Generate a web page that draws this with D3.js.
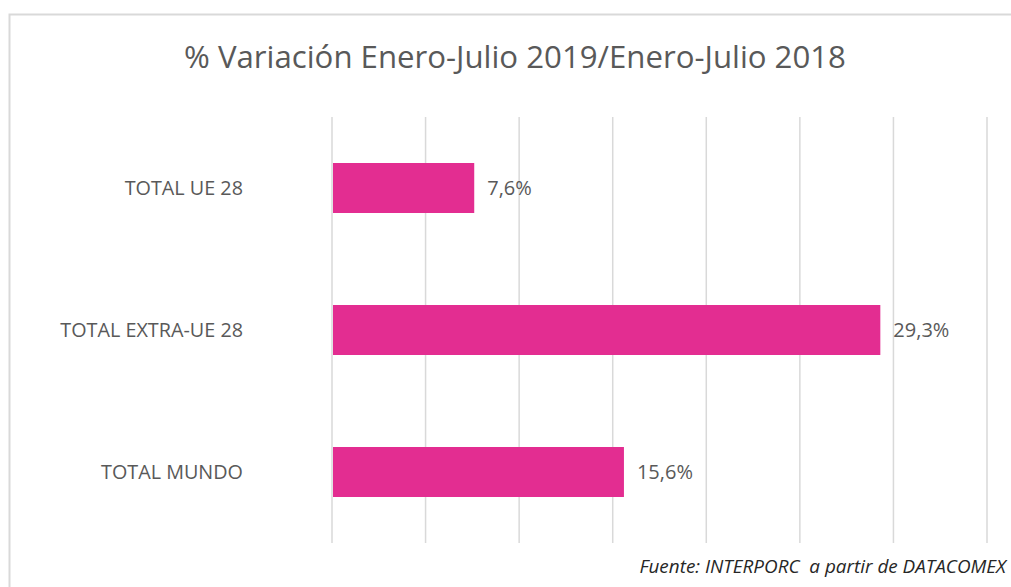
<!DOCTYPE html>
<html>
<head>
<meta charset="utf-8">
<script src="https://cdn.jsdelivr.net/npm/d3@7"></script>
<style>
  html, body { margin: 0; padding: 0; background: #ffffff; }
  svg { display: block; }
</style>
</head>
<body>
<svg id="chart" width="1011" height="587"></svg>
<script>
// Export variation by destination, Jan–Jul 2019 vs Jan–Jul 2018 (%)
const categories = ["TOTAL UE 28", "TOTAL EXTRA-UE 28", "TOTAL MUNDO"];
const values = [7.6, 29.3, 15.6];
const valueLabels = ["7,6%", "29,3%", "15,6%"];
const gridTicks = [0, 5, 10, 15, 20, 25, 30, 35];
const titleText = "% Variación Enero-Julio 2019/Enero-Julio 2018";
const sourceText = "Fuente: INTERPORC  a partir de DATACOMEX";

const svg = d3.select("#chart");
const font = "'Open Sans', 'Noto Sans', sans-serif";
const textColor = "#595959";
const barColor = "#e32d91";

// chart area frame
svg.append("rect")
  .attr("x", 9.5).attr("y", 14.5)
  .attr("width", 1020).attr("height", 600)
  .attr("fill", "#ffffff")
  .attr("stroke", "#d9d9d9")
  .attr("stroke-width", 2);

const plot = { left: 332, right: 987, top: 117, bottom: 543 };

const x = d3.scaleLinear().domain([0, 35]).range([plot.left, plot.right]);
const y = d3.scaleBand().domain(categories).range([plot.top, plot.bottom]).paddingInner(0.648).paddingOuter(0.324);

// vertical gridlines
svg.append("g")
  .selectAll("line")
  .data(gridTicks)
  .join("line")
  .attr("x1", d => x(d)).attr("x2", d => x(d))
  .attr("y1", plot.top).attr("y2", plot.bottom)
  .attr("stroke", "#d9d9d9")
  .attr("stroke-width", 1.5);

// bars
svg.append("g")
  .selectAll("rect")
  .data(categories)
  .join("rect")
  .attr("x", x(0) + 1)
  .attr("y", d => y(d))
  .attr("width", (d, i) => x(values[i]) - x(0) - 1)
  .attr("height", y.bandwidth())
  .attr("fill", barColor);

// value labels
svg.append("g")
  .selectAll("text")
  .data(categories)
  .join("text")
  .attr("x", (d, i) => x(values[i]) + 13)
  .attr("y", d => y(d) + y.bandwidth() / 2)
  .attr("dy", "0.36em")
  .attr("font-family", font)
  .attr("font-size", 20)
  .attr("fill", textColor)
  .text((d, i) => valueLabels[i]);

// category labels
svg.append("g")
  .selectAll("text")
  .data(categories)
  .join("text")
  .attr("x", 243)
  .attr("y", d => y(d) + y.bandwidth() / 2)
  .attr("dy", "0.36em")
  .attr("text-anchor", "end")
  .attr("font-family", font)
  .attr("font-size", 19.8)
  .attr("fill", textColor)
  .text(d => d);

// title
svg.append("text")
  .attr("x", 515)
  .attr("y", 68)
  .attr("text-anchor", "middle")
  .attr("font-family", font)
  .attr("font-size", 31.2)
  .attr("fill", textColor)
  .text(titleText);

// source note
svg.append("text")
  .attr("x", 1006)
  .attr("y", 573)
  .attr("text-anchor", "end")
  .attr("font-family", font)
  .attr("font-style", "italic")
  .attr("font-size", 18.9)
  .attr("fill", "#262626")
  .style("white-space", "pre")
  .text(sourceText);
</script>
</body>
</html>
